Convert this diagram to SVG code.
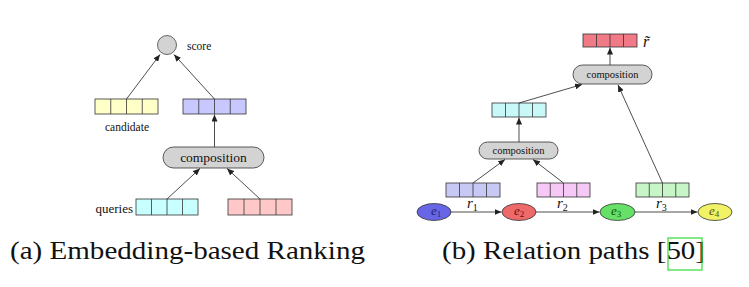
<svg xmlns="http://www.w3.org/2000/svg" width="749" height="287" viewBox="0 0 749 287">
<style>
.cell{stroke:#333;stroke-width:0.8}
.comp{fill:#d3d3d3;stroke:#333;stroke-width:0.8}
.lbl{font-family:"Liberation Serif",serif;fill:#111}
.math{font-family:"Liberation Serif",serif;font-style:italic;fill:#111}
.edge{stroke:#222;stroke-width:0.8;fill:none;marker-end:url(#ah)}
.cap{font-family:"Liberation Serif",serif;font-size:26px;fill:#111}
</style>
<defs>
<marker id="ah" markerWidth="8" markerHeight="6" refX="7" refY="3" orient="auto" markerUnits="userSpaceOnUse">
<path d="M0,0 L7,3 L0,6 Z" fill="#222"/>
</marker>
</defs>
<rect width="749" height="287" fill="#fff"/>

<!-- Left panel -->
<g id="score">
<circle cx="167" cy="45" r="9.5" fill="#d3d3d3" stroke="#444" stroke-width="0.8"/>
<text class="lbl" x="187" y="50" font-size="11.5">score</text>
</g>
<g id="candidate">
<rect x="95" y="99" width="63" height="15" fill="#ffffc8" class="cell"/>
<path d="M110.75,99v15M126.5,99v15M142.25,99v15" class="cell"/>
<text class="lbl" x="127" y="131" font-size="11.5" text-anchor="middle">candidate</text>
</g>
<g id="qvec">
<rect x="183" y="99" width="63" height="15" fill="#c8c8ff" class="cell"/>
<path d="M198.75,99v15M214.5,99v15M230.25,99v15" class="cell"/>
</g>
<g id="compA">
<rect x="163" y="147" width="101" height="21" rx="10.5" class="comp"/>
<text class="lbl" x="213.5" y="162" font-size="13.5" text-anchor="middle">composition</text>
</g>
<g id="queries">
<rect x="136" y="199" width="62" height="16" fill="#c8ffff" class="cell"/>
<path d="M151.5,199v16M167,199v16M182.5,199v16" class="cell"/>
<text class="lbl" x="133" y="213" font-size="13" text-anchor="end">queries</text>
</g>
<g id="redvec">
<rect x="228" y="199" width="64" height="16" fill="#ffc8c8" class="cell"/>
<path d="M244,199v16M260,199v16M276,199v16" class="cell"/>
</g>

<!-- Right panel -->
<g id="rtilde">
<rect x="583" y="34" width="54" height="13" fill="#f07a86" class="cell"/>
<path d="M596.5,34v13M610,34v13M623.5,34v13" class="cell"/>
<text class="math" x="643" y="47" font-size="16">r&#771;</text>
</g>
<g id="compB">
<rect x="573" y="65" width="79" height="19" rx="9.5" class="comp"/>
<text class="lbl" x="612.5" y="78" font-size="10.5" text-anchor="middle">composition</text>
</g>
<g id="r12vec">
<rect x="492" y="103" width="54" height="14" fill="#c8f8f8" class="cell"/>
<path d="M505.5,103v14M519,103v14M532.5,103v14" class="cell"/>
</g>
<g id="compC">
<rect x="479" y="142" width="79" height="17" rx="8.5" class="comp"/>
<text class="lbl" x="518.5" y="154" font-size="10.5" text-anchor="middle">composition</text>
</g>
<g id="r1">
<rect x="446" y="183" width="54" height="14" fill="#c8c8f5" class="cell"/>
<path d="M459.5,183v14M473,183v14M486.5,183v14" class="cell"/>
<text class="math" x="467" y="208" font-size="15">r<tspan font-size="10" font-style="normal" dy="3">1</tspan></text>
</g>
<g id="r2">
<rect x="537" y="183" width="53" height="14" fill="#f5c8f5" class="cell"/>
<path d="M550.25,183v14M563.5,183v14M576.75,183v14" class="cell"/>
<text class="math" x="557" y="208" font-size="15">r<tspan font-size="10" font-style="normal" dy="3">2</tspan></text>
</g>
<g id="r3">
<rect x="636" y="183" width="53" height="14" fill="#c8f5c8" class="cell"/>
<path d="M649.25,183v14M662.5,183v14M675.75,183v14" class="cell"/>
<text class="math" x="656" y="208" font-size="15">r<tspan font-size="10" font-style="normal" dy="3">3</tspan></text>
</g>
<g id="e1">
<ellipse cx="434" cy="212" rx="17" ry="8.5" fill="#6666e6" stroke="#333" stroke-width="0.8"/>
<text class="math" x="431" y="215" font-size="13" fill="#222277" style="fill:#22226a">e<tspan font-size="9" font-style="normal" dy="2">1</tspan></text>
</g>
<g id="e2">
<ellipse cx="519" cy="212" rx="17" ry="8.5" fill="#ee6a6a" stroke="#333" stroke-width="0.8"/>
<text class="math" x="514" y="215" font-size="13" style="fill:#6a1010">e<tspan font-size="9" font-style="normal" dy="2">2</tspan></text>
</g>
<g id="e3">
<ellipse cx="617.5" cy="212" rx="17.5" ry="8.5" fill="#66e066" stroke="#333" stroke-width="0.8"/>
<text class="math" x="611" y="215" font-size="13" style="fill:#115511">e<tspan font-size="9" font-style="normal" dy="2">3</tspan></text>
</g>
<g id="e4">
<ellipse cx="715" cy="212" rx="17" ry="8.5" fill="#f2f266" stroke="#333" stroke-width="0.8"/>
<text class="math" x="709" y="215" font-size="13" style="fill:#555511">e<tspan font-size="9" font-style="normal" dy="2">4</tspan></text>
</g>

<g id="connectors">
<path class="edge" d="M126.5,99 L160,54.5"/>
<path class="edge" d="M214.5,99 L174,54.5"/>
<path class="edge" d="M214.5,147 L214.5,114.5"/>
<path class="edge" d="M167,199 L200,168.5"/>
<path class="edge" d="M260,199 L227,168.5"/>
<path class="edge" d="M610,65 L610,47.5"/>
<path class="edge" d="M519,103 L582,84.5"/>
<path class="edge" d="M519,142 L519,117.5"/>
<path class="edge" d="M473,183 L505,159.5"/>
<path class="edge" d="M563.5,183 L533,159.5"/>
<path class="edge" d="M662.5,183 L618,85"/>
<path class="edge" d="M451,212 L501.5,212"/>
<path class="edge" d="M536,212 L599.5,212"/>
<path class="edge" d="M635,212 L697.5,212"/>
</g>

<g id="captions">
<text class="cap" x="10" y="259" textLength="355" lengthAdjust="spacingAndGlyphs">(a) Embedding-based Ranking</text>
<text class="cap" x="442" y="259" textLength="263" lengthAdjust="spacingAndGlyphs">(b) Relation paths [50]</text>
<rect x="668" y="238" width="34" height="32" fill="none" stroke="#33dd33" stroke-width="1.2"/>
</g>
</svg>
